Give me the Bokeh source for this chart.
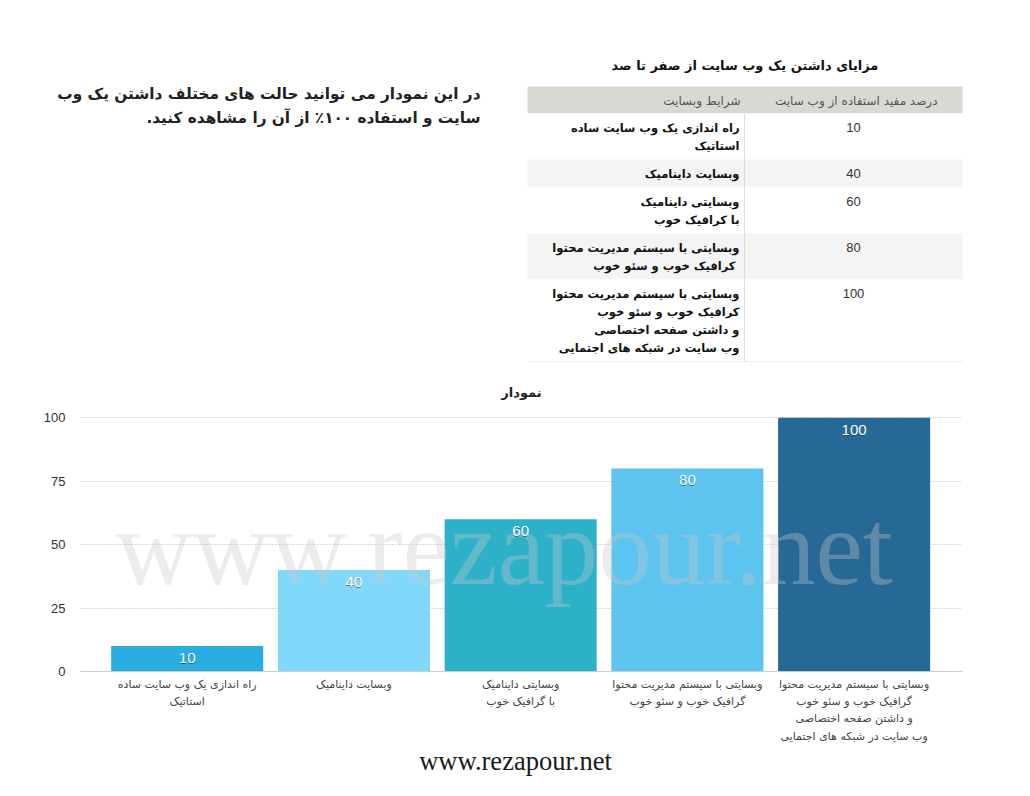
from bokeh.plotting import figure
from bokeh.layouts import column
from bokeh.models import Range1d, FixedTicker
from bokeh.core.properties import value
from bokeh.embed import file_html
from bokeh.resources import INLINE

# ---------------- data ----------------
intro_lines = ["در این نمودار می توانید حالت های مختلف داشتن یک وب",
               "سایت و استفاده ۱۰۰٪ از آن را مشاهده کنید.\u200f"]
table_title = "مزایای داشتن یک وب سایت از صفر تا صد"
table_headers = ["شرایط وبسایت", "درصد مفید استفاده از وب سایت"]
table_conditions = [
    ["راه اندازی یک وب سایت ساده", "استاتیک"],
    ["وبسایت داینامیک"],
    ["وبسایتی داینامیک", "با کرافیک خوب"],
    ["وبسایتی با سیستم مدیریت محتوا", " کرافیک خوب و سئو خوب"],
    ["وبسایتی با سیستم مدیریت محتوا", "کرافیک خوب و سئو خوب", "و داشتن صفحه اختصاصی", "وب سایت در شبکه های اجتمایی"],
]
table_values = [10, 40, 60, 80, 100]

chart_title = "نمودار"
categories = [
    "راه اندازی یک وب سایت ساده\nاستاتیک",
    "وبسایت داینامیک",
    "وبسایتی داینامیک\nبا گرافیک خوب",
    "وبسایتی با سیستم مدیریت محتوا\nگرافیک خوب و سئو خوب",
    "وبسایتی با سیستم مدیریت محتوا\nگرافیک خوب و سئو خوب\nو داشتن صفحه اختصاصی\nوب سایت در شبکه های اجتمایی",
]
values = [10, 40, 60, 80, 100]
y_ticks = [0, 25, 50, 75, 100]
bar_colors = ["#29ade0", "#80d8fa", "#2db1c8", "#5cc4ee", "#266896"]
watermark = "www.rezapour.net"
footer = "www.rezapour.net"

FA = value("DejaVu Sans")
LAT = value("Liberation Sans")
SERIF = value("Liberation Serif")
W, H = 1030, 796
TOP_H = 370
CHART_BOTTOM = 745


def blank(y0, y1):
    f = figure(width=W, height=y1 - y0, x_range=Range1d(0, W), y_range=Range1d(y1, y0),
               output_backend="svg", toolbar_location=None,
               x_axis_location=None, y_axis_location=None,
               min_border=0, outline_line_color=None)
    f.grid.visible = False
    f.frame_align = False
    return f


# ---------------- top panel (intro + table) ----------------
top = blank(0, TOP_H)

top.text(x=[480] * len(intro_lines), y=[93 + 24 * i for i in range(len(intro_lines))],
         text=intro_lines, text_font=FA, text_font_size="15.3px", text_font_style="bold",
         text_color="#222222", text_align="right", text_baseline="middle")

tbl_left, tbl_mid, tbl_right = 527, 744, 962
hdr_top, hdr_bot = 86, 113
line_h, pad = 18, 10

top.text(x=[(tbl_left + tbl_right) / 2], y=[65], text=[table_title], text_font=FA,
         text_font_size="13px", text_font_style="bold", text_color="#111111",
         text_align="center", text_baseline="middle")

top.quad(left=[tbl_left], right=[tbl_right], top=[hdr_top], bottom=[hdr_bot],
         fill_color="#d9d9d4", line_color=None)
top.text(x=[740, 937], y=[100, 100], text=table_headers, text_font=FA,
         text_font_size="12px", text_color="#555555", text_align="right", text_baseline="middle")

row_tops, row_bots = [], []
y = hdr_bot
for lines in table_conditions:
    h = pad + line_h * len(lines)
    row_tops.append(y)
    row_bots.append(y + h)
    y += h
row_fill = ["#ffffff" if i % 2 == 0 else "#f4f4f4" for i in range(len(table_conditions))]
top.quad(left=[tbl_left] * len(row_tops), right=[tbl_right] * len(row_tops),
         top=row_tops, bottom=row_bots, fill_color=row_fill, line_color=None)
top.segment(x0=[tbl_mid], y0=[hdr_bot], x1=[tbl_mid], y1=[row_bots[-1]],
            line_color="#dddddd", line_width=1)
top.segment(x0=[tbl_left], y0=[row_bots[-1]], x1=[tbl_right], y1=[row_bots[-1]],
            line_color="#eeeeee", line_width=1)

cx, cy, ct = [], [], []
for rt, lines in zip(row_tops, table_conditions):
    for j, ln in enumerate(lines):
        cx.append(739)
        cy.append(rt + 14 + line_h * j)
        ct.append(ln)
top.text(x=cx, y=cy, text=ct, text_font=FA, text_font_size="11.5px", text_font_style="bold",
         text_color="#111111", text_align="right", text_baseline="middle")
top.text(x=[853] * len(table_values), y=[rt + 14 for rt in row_tops],
         text=[str(v) for v in table_values], text_font=LAT, text_font_size="13px",
         text_color="#333333", text_align="center", text_baseline="middle")

# ---------------- bar chart ----------------
frame_top, frame_bot = 411, 671.5
px_per_unit = 2.543
y_max = (frame_bot - frame_top) / px_per_unit
idx = list(range(len(values)))
p = figure(width=W, height=CHART_BOTTOM - TOP_H, x_range=Range1d(-0.64, 4.65),
           y_range=Range1d(0, y_max),
           output_backend="svg", toolbar_location=None,
           min_border_left=80, min_border_right=68,
           min_border_top=int(frame_top - TOP_H), min_border_bottom=int(round(CHART_BOTTOM - frame_bot)),
           outline_line_color=None)
p.frame_align = False
p.title.text = chart_title
p.title.align = "center"
p.title.text_font = "DejaVu Sans"
p.title.text_font_size = "13px"
p.title.text_font_style = "bold"
p.title.text_color = "#222222"
p.title.standoff = 24

p.vbar(x=idx, top=values, width=0.912, color=bar_colors, line_color=None)
p.text(x=[1.9], y=[48.5], text=[watermark], text_font=SERIF, text_font_size="107px",
       text_color="#c8c8c8", text_alpha=0.35, text_align="center", text_baseline="middle")
p.text(x=idx, y=values, text=[str(v) for v in values], text_font=LAT, text_font_size="15px",
       text_color="#0b3a55", text_alpha=0.6, text_align="center", text_baseline="top", y_offset=8)
p.text(x=idx, y=values, text=[str(v) for v in values], text_font=LAT, text_font_size="15px",
       text_color="#ffffff", text_align="center", text_baseline="top", y_offset=7)

p.xgrid.visible = False
p.ygrid.grid_line_color = "#b5b5b5"
p.ygrid.grid_line_dash = "1 2"
p.ygrid.ticker = FixedTicker(ticks=y_ticks[1:])

p.yaxis.ticker = FixedTicker(ticks=y_ticks)
p.yaxis.axis_line_color = None
p.yaxis.major_tick_line_color = None
p.yaxis.major_tick_out = 0
p.yaxis.minor_tick_line_color = None
p.yaxis.minor_tick_out = 0
p.yaxis.major_label_text_font = "Liberation Sans"
p.yaxis.major_label_text_font_size = "13px"
p.yaxis.major_label_text_color = "#333333"
p.yaxis.major_label_standoff = 15

p.xaxis.ticker = FixedTicker(ticks=idx)
p.xaxis.major_label_overrides = {i: c for i, c in zip(idx, categories)}
p.xaxis.axis_line_color = "#cccccc"
p.xaxis.major_tick_line_color = None
p.xaxis.major_tick_out = 0
p.xaxis.minor_tick_line_color = None
p.xaxis.minor_tick_out = 0
p.xaxis.major_label_text_font = "DejaVu Sans"
p.xaxis.major_label_text_font_size = "11px"
p.xaxis.major_label_text_line_height = 1.34
p.xaxis.major_label_text_color = "#444444"
p.xaxis.major_label_standoff = 6

# ---------------- footer ----------------
foot = blank(CHART_BOTTOM, H)
foot.text(x=[515], y=[760], text=[footer], text_font=SERIF, text_font_size="26.5px",
          text_color="#1a1a1a", text_align="center", text_baseline="middle")

layout = column(top, p, foot, spacing=0)
open("out.html", "w").write(file_html(layout, INLINE))
